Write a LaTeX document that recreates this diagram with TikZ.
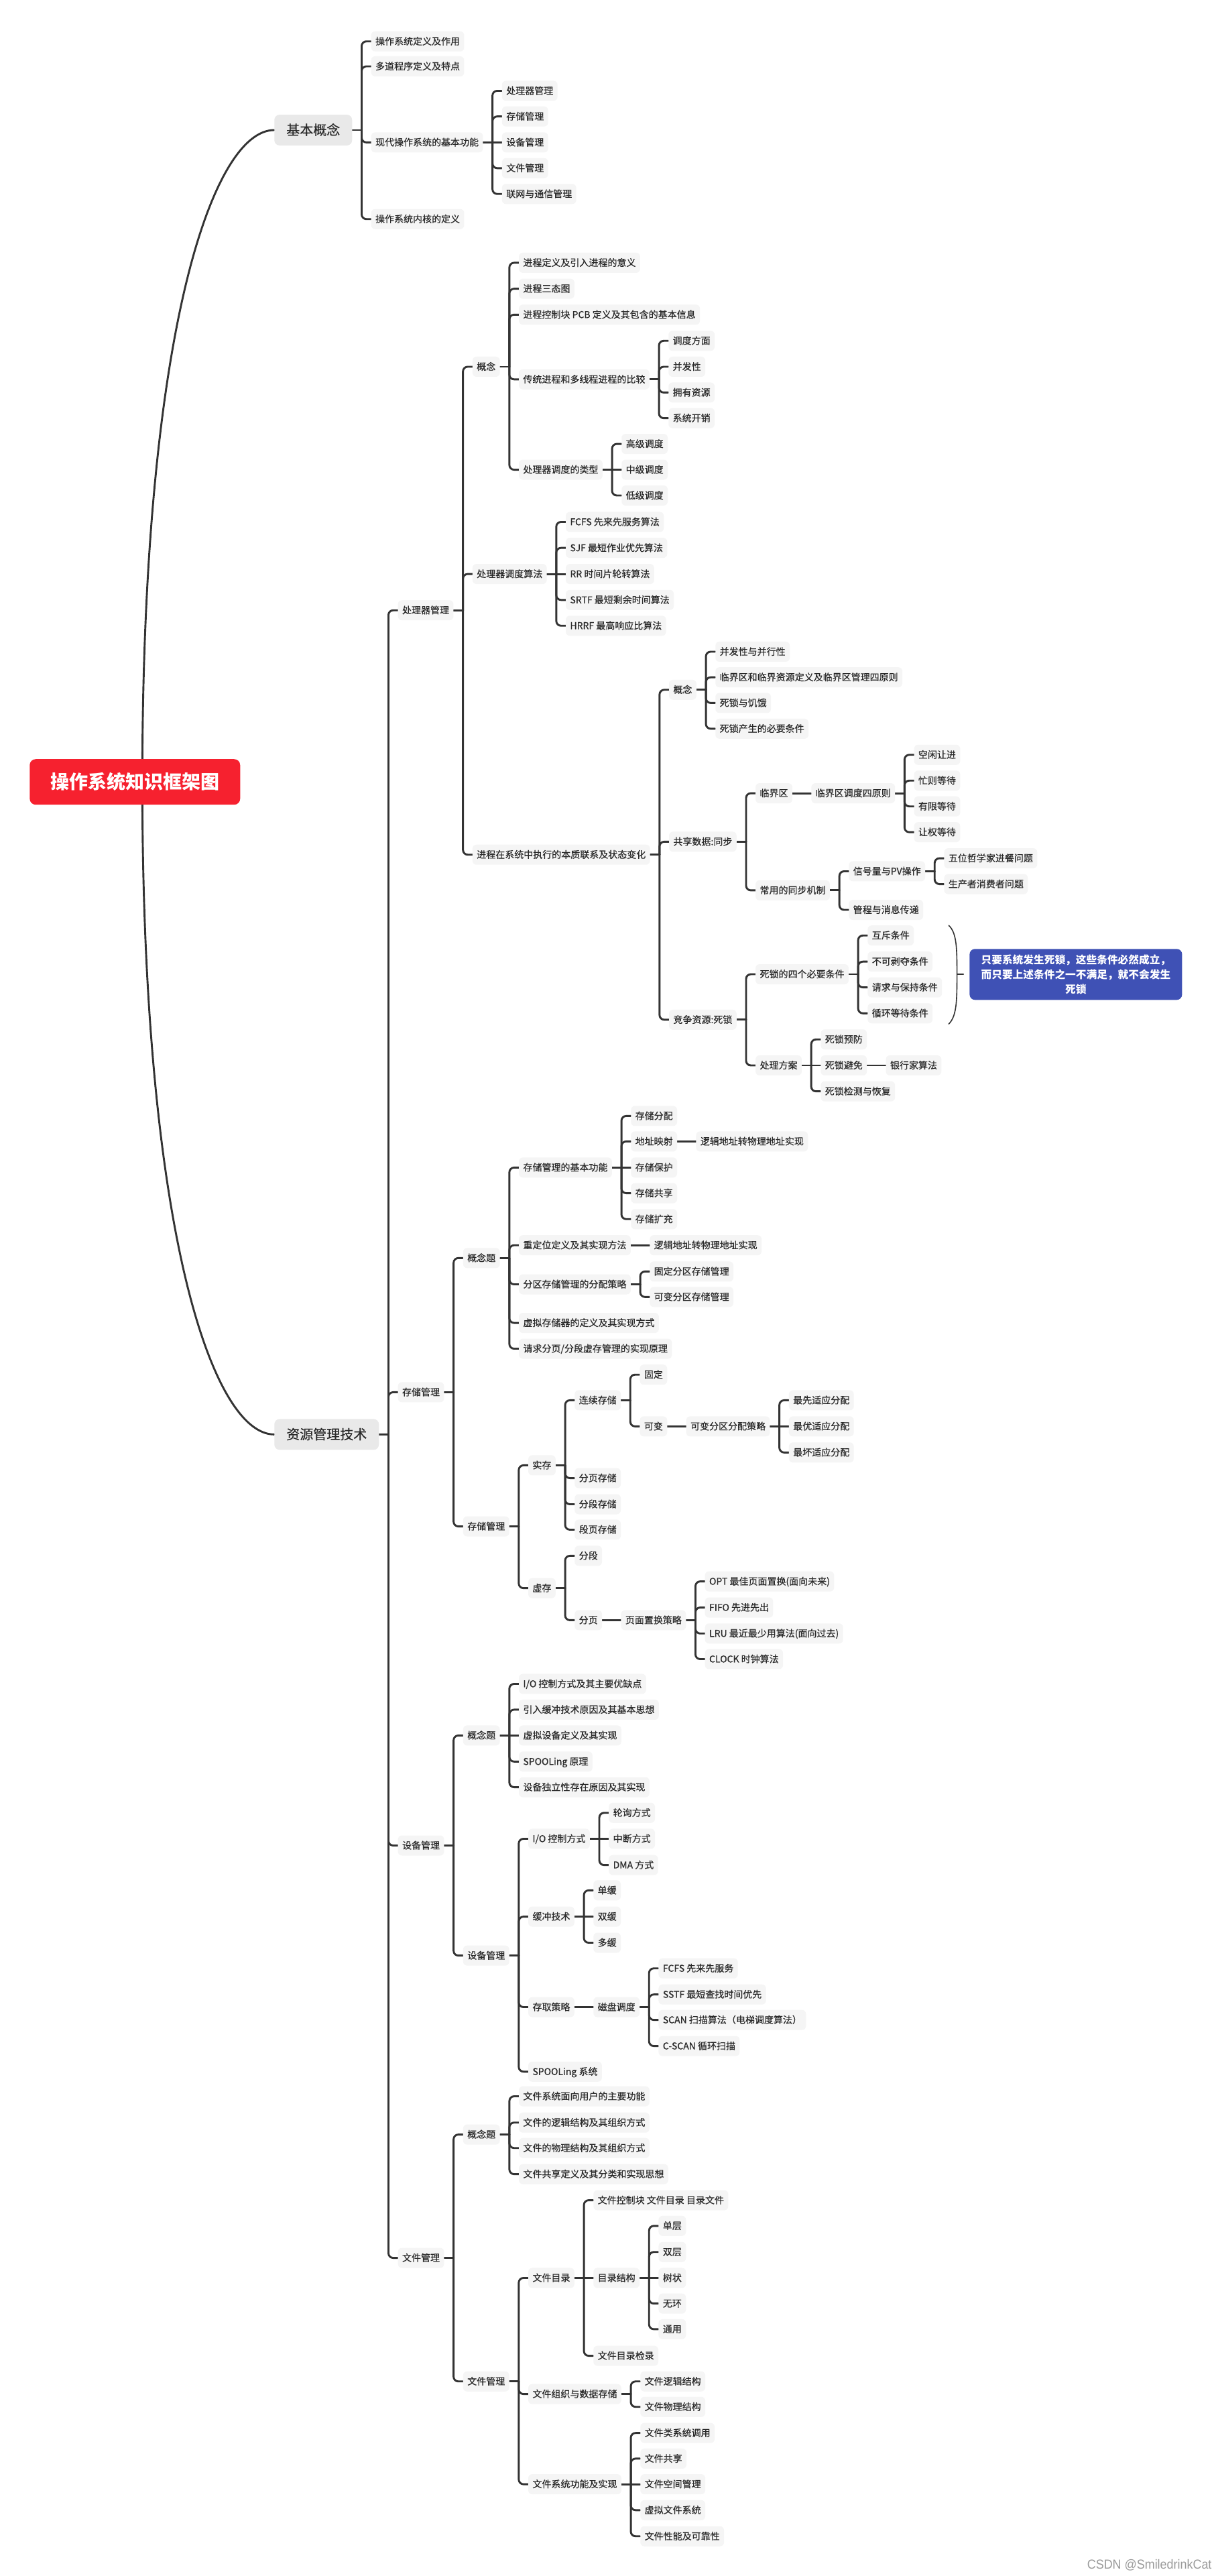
\documentclass[tikz,border=0pt]{standalone}
\usepackage{fontspec}
\usepackage{graphicx}
\setmainfont{Noto Sans CJK SC}
\newfontfamily\medfont[FakeBold=0.5]{Noto Sans CJK SC}
\newfontfamily\wmfont{Liberation Sans}
\usetikzlibrary{calc}
\definecolor{rootred}{HTML}{F6212F}
\definecolor{noteblue}{HTML}{3F51B5}
\definecolor{leafbg}{HTML}{F5F5F5}
\definecolor{bigbg}{HTML}{E9E9E9}
\definecolor{txt}{HTML}{2A2A2A}
\definecolor{lnk}{HTML}{333333}
\definecolor{wmgray}{HTML}{9A9A9A}
\pgfdeclarelayer{bg}
\pgfsetlayers{bg,main}
\tikzset{
  leaf/.style={anchor=west, fill=leafbg, rounded corners=6pt, inner xsep=6.4pt, inner ysep=0pt,
    minimum height=30pt, text=txt, text height=11.5pt, text depth=1.5pt, font=\medfont\fontsize{14}{16}\selectfont},
  big/.style={leaf, fill=bigbg, rounded corners=8pt, inner xsep=18pt, minimum height=46pt,
    text height=16.5pt, text depth=2pt, font=\medfont\fontsize{20}{24}\selectfont},
  rootbox/.style={anchor=west, fill=rootred, rounded corners=9pt, inner xsep=31pt, inner ysep=0pt,
    minimum height=68pt, text=white, text height=23pt, text depth=3pt, font=\fontsize{28}{32}\selectfont\bfseries},
  note/.style={fill=noteblue, rounded corners=8pt, text=white, align=center, inner sep=0pt,
    minimum width=317pt, minimum height=76pt, font=\fontsize{15.7}{21.7}\selectfont\bfseries},
  link/.style={draw=lnk, line width=2.9pt, rounded corners=7pt, line cap=round, line join=round},
  curvelink/.style={draw=lnk, line width=2.9pt, line cap=round},
  bracelink/.style={draw=lnk, line width=1.6pt, line cap=round},
}
\newcommand{\mnode}[4]{\node[leaf] (#1) at ($(#2.east |- 0,#3)+(28pt,0)$) {#4};}
\newcommand{\kidlinks}[2]{%
  \coordinate (#1-t) at ([xshift=14pt]#1.east);
  \draw[link] (#1.east) -- (#1-t);
  \foreach \c in {#2} {\draw[link] (#1-t) -- (#1-t |- \c.west) -- (\c.west);}
}
\newcommand{\slink}[2]{\draw[link] (#1.east) -- (#2.west);}
\begin{document}
\begin{tikzpicture}[x=2.4495pt, y=-2.4495pt]
\useasboundingbox (0,0) rectangle (739,1568.5);
\begin{pgfonlayer}{bg}
\fill[white] (0,0) rectangle (739,1568.5);
\end{pgfonlayer}

\node[rootbox] (root) at (18,476.1) {操作系统知识框架图};
\node[big] (A) at (167,79.2) {基本概念};
\node[big] (B) at (167,873.4) {资源管理技术};

% 基本概念
\mnode{a1}{A}{25.2}{操作系统定义及作用}
\mnode{a2}{A}{40.4}{多道程序定义及特点}
\mnode{a3}{A}{86.7}{现代操作系统的基本功能}
\mnode{a4}{A}{133.4}{操作系统内核的定义}
\mnode{a31}{a3}{55.3}{处理器管理}
\mnode{a32}{a3}{70.9}{存储管理}
\mnode{a33}{a3}{86.7}{设备管理}
\mnode{a34}{a3}{102.4}{文件管理}
\mnode{a35}{a3}{118.1}{联网与通信管理}

% 资源管理技术
\mnode{P}{B}{371.6}{处理器管理}
\mnode{S}{B}{847.7}{存储管理}
\mnode{D}{B}{1123.7}{设备管理}
\mnode{F}{B}{1374.8}{文件管理}

% 处理器管理
\mnode{p1}{P}{223.3}{概念}
\mnode{p2}{P}{349.5}{处理器调度算法}
\mnode{p3}{P}{520.4}{进程在系统中执行的本质联系及状态变化}
\mnode{p11}{p1}{160}{进程定义及引入进程的意义}
\mnode{p12}{p1}{175.8}{进程三态图}
\mnode{p13}{p1}{191.6}{进程控制块 PCB 定义及其包含的基本信息}
\mnode{p14}{p1}{231}{传统进程和多线程进程的比较}
\mnode{p15}{p1}{286}{处理器调度的类型}
\mnode{p141}{p14}{207.5}{调度方面}
\mnode{p142}{p14}{223.3}{并发性}
\mnode{p143}{p14}{239}{拥有资源}
\mnode{p144}{p14}{254.6}{系统开销}
\mnode{p151}{p15}{270.3}{高级调度}
\mnode{p152}{p15}{286}{中级调度}
\mnode{p153}{p15}{301.7}{低级调度}
\mnode{p21}{p2}{317.8}{FCFS 先来先服务算法}
\mnode{p22}{p2}{333.6}{SJF 最短作业优先算法}
\mnode{p23}{p2}{349.5}{RR 时间片轮转算法}
\mnode{p24}{p2}{365.3}{SRTF 最短剩余时间算法}
\mnode{p25}{p2}{381}{HRRF 最高响应比算法}
\mnode{p31}{p3}{420}{概念}
\mnode{p32}{p3}{512.5}{共享数据:同步}
\mnode{p33}{p3}{620.9}{竞争资源:死锁}
\mnode{p311}{p31}{396.8}{并发性与并行性}
\mnode{p312}{p31}{412.4}{临界区和临界资源定义及临界区管理四原则}
\mnode{p313}{p31}{428}{死锁与饥饿}
\mnode{p314}{p31}{443.7}{死锁产生的必要条件}
\mnode{p321}{p32}{483}{临界区}
\mnode{p322}{p32}{542.1}{常用的同步机制}
\mnode{p3211}{p321}{483}{临界区调度四原则}
\mnode{q1}{p3211}{459.6}{空闲让进}
\mnode{q2}{p3211}{475.3}{忙则等待}
\mnode{q3}{p3211}{491}{有限等待}
\mnode{q4}{p3211}{506.7}{让权等待}
\mnode{p3221}{p322}{530.5}{信号量与PV操作}
\mnode{p3222}{p322}{554}{管程与消息传递}
\mnode{r1}{p3221}{522.6}{五位哲学家进餐问题}
\mnode{r2}{p3221}{538.3}{生产者消费者问题}
\mnode{p331}{p33}{593.2}{死锁的四个必要条件}
\mnode{p332}{p33}{648.7}{处理方案}
\mnode{c1}{p331}{569.6}{互斥条件}
\mnode{c2}{p331}{585.5}{不可剥夺条件}
\mnode{c3}{p331}{601.2}{请求与保持条件}
\mnode{c4}{p331}{617}{循环等待条件}
\mnode{h1}{p332}{632.9}{死锁预防}
\mnode{h2}{p332}{648.7}{死锁避免}
\mnode{h3}{p332}{664.5}{死锁检测与恢复}
\mnode{h21}{h2}{648.7}{银行家算法}

\node[note] (note) at (655.2,593.3) {只要系统发生死锁，这些条件必然成立，\\而只要上述条件之一不满足，就不会发生\\死锁};
\coordinate (bt) at (577.8,563.5);
\coordinate (bb) at (577.8,623.5);
\coordinate (bm) at (582.8,593.3);

% 存储管理
\mnode{s1}{S}{766}{概念题}
\mnode{s2}{S}{929.4}{存储管理}
\mnode{s11}{s1}{710.9}{存储管理的基本功能}
\mnode{s12}{s1}{758.2}{重定位定义及其实现方法}
\mnode{s13}{s1}{782}{分区存储管理的分配策略}
\mnode{s14}{s1}{805.5}{虚拟存储器的定义及其实现方式}
\mnode{s15}{s1}{821.2}{请求分页/分段虚存管理的实现原理}
\mnode{s111}{s11}{679.5}{存储分配}
\mnode{s112}{s11}{695}{地址映射}
\mnode{s113}{s11}{710.9}{存储保护}
\mnode{s114}{s11}{726.5}{存储共享}
\mnode{s115}{s11}{742.3}{存储扩充}
\mnode{s1121}{s112}{695}{逻辑地址转物理地址实现}
\mnode{s121}{s12}{758.2}{逻辑地址转物理地址实现}
\mnode{s131}{s13}{774.2}{固定分区存储管理}
\mnode{s132}{s13}{789.7}{可变分区存储管理}
\mnode{s21}{s2}{892.2}{实存}
\mnode{s22}{s2}{967}{虚存}
\mnode{s211}{s21}{852.6}{连续存储}
\mnode{s212}{s21}{900}{分页存储}
\mnode{s213}{s21}{915.9}{分段存储}
\mnode{s214}{s21}{931.4}{段页存储}
\mnode{s2111}{s211}{837}{固定}
\mnode{s2112}{s211}{868.5}{可变}
\mnode{s21121}{s2112}{868.5}{可变分区分配策略}
\mnode{fa}{s21121}{852.6}{最先适应分配}
\mnode{fb}{s21121}{868.5}{最优适应分配}
\mnode{fc}{s21121}{884.4}{最坏适应分配}
\mnode{s221}{s22}{947.3}{分段}
\mnode{s222}{s22}{986.5}{分页}
\mnode{s2221}{s222}{986.5}{页面置换策略}
\mnode{o1}{s2221}{962.9}{OPT 最佳页面置换(面向未来)}
\mnode{o2}{s2221}{978.8}{FIFO 先进先出}
\mnode{o3}{s2221}{994.6}{LRU 最近最少用算法(面向过去)}
\mnode{o4}{s2221}{1010.2}{CLOCK 时钟算法}

% 设备管理
\mnode{d1}{D}{1056.7}{概念题}
\mnode{d2}{D}{1190.7}{设备管理}
\mnode{d11}{d1}{1025.3}{I/O 控制方式及其主要优缺点}
\mnode{d12}{d1}{1041}{引入缓冲技术原因及其基本思想}
\mnode{d13}{d1}{1056.7}{虚拟设备定义及其实现}
\mnode{d14}{d1}{1072.6}{SPOOLing 原理}
\mnode{d15}{d1}{1088.2}{设备独立性存在原因及其实现}
\mnode{d21}{d2}{1119.6}{I/O 控制方式}
\mnode{d22}{d2}{1167}{缓冲技术}
\mnode{d23}{d2}{1222.1}{存取策略}
\mnode{d24}{d2}{1261.4}{SPOOLing 系统}
\mnode{d211}{d21}{1103.8}{轮询方式}
\mnode{d212}{d21}{1119.6}{中断方式}
\mnode{d213}{d21}{1135.6}{DMA 方式}
\mnode{d221}{d22}{1151}{单缓}
\mnode{d222}{d22}{1167}{双缓}
\mnode{d223}{d22}{1182.9}{多缓}
\mnode{d231}{d23}{1222.1}{磁盘调度}
\mnode{k1}{d231}{1198.5}{FCFS 先来先服务}
\mnode{k2}{d231}{1214.4}{SSTF 最短查找时间优先}
\mnode{k3}{d231}{1229.9}{SCAN 扫描算法（电梯调度算法）}
\mnode{k4}{d231}{1245.8}{C-SCAN 循环扫描}

% 文件管理
\mnode{g1}{F}{1299.7}{概念题}
\mnode{g2}{F}{1450}{文件管理}
\mnode{g11}{g1}{1276.4}{文件系统面向用户的主要功能}
\mnode{g12}{g1}{1292.4}{文件的逻辑结构及其组织方式}
\mnode{g13}{g1}{1307.9}{文件的物理结构及其组织方式}
\mnode{g14}{g1}{1323.8}{文件共享定义及其分类和实现思想}
\mnode{g21}{g2}{1387}{文件目录}
\mnode{g22}{g2}{1457.7}{文件组织与数据存储}
\mnode{g23}{g2}{1512.6}{文件系统功能及实现}
\mnode{g211}{g21}{1339.7}{文件控制块 文件目录 目录文件}
\mnode{g212}{g21}{1387}{目录结构}
\mnode{g213}{g21}{1434.4}{文件目录检录}
\mnode{m1}{g212}{1355.3}{单层}
\mnode{m2}{g212}{1371.2}{双层}
\mnode{m3}{g212}{1387}{树状}
\mnode{m4}{g212}{1402.6}{无环}
\mnode{m5}{g212}{1418.2}{通用}
\mnode{g221}{g22}{1450}{文件逻辑结构}
\mnode{g222}{g22}{1465.5}{文件物理结构}
\mnode{g231}{g23}{1481.4}{文件类系统调用}
\mnode{g232}{g23}{1497}{文件共享}
\mnode{g233}{g23}{1512.6}{文件空间管理}
\mnode{g234}{g23}{1528.4}{虚拟文件系统}
\mnode{g235}{g23}{1544.3}{文件性能及可靠性}

\node[anchor=east, text=wmgray, inner sep=0pt, font=\wmfont\fontsize{19.5}{21}\selectfont] (wm) at (738,1562) {\scalebox{0.92}[1]{CSDN @SmiledrinkCat}};

\begin{pgfonlayer}{bg}
\coordinate (rs) at ([xshift=11pt]root.center);
\draw[curvelink] (rs) .. controls (rs |- 0,200) and (A.west -| 130,0) .. (A.west);
\draw[curvelink] (rs) .. controls (rs |- 0,752) and (B.west -| 130,0) .. (B.west);

\kidlinks{A}{a1,a2,a3,a4}
\kidlinks{a3}{a31,a32,a34,a35} \slink{a3}{a33}
\kidlinks{B}{P,S,D,F}
\kidlinks{P}{p1,p2,p3}
\kidlinks{p1}{p11,p12,p13,p14,p15}
\kidlinks{p14}{p141,p142,p143,p144}
\kidlinks{p15}{p151,p153} \slink{p15}{p152}
\kidlinks{p2}{p21,p22,p24,p25} \slink{p2}{p23}
\kidlinks{p3}{p31,p32,p33}
\kidlinks{p31}{p311,p312,p313,p314}
\kidlinks{p32}{p321,p322}
\slink{p321}{p3211}
\kidlinks{p3211}{q1,q2,q3,q4}
\kidlinks{p322}{p3221,p3222}
\kidlinks{p3221}{r1,r2}
\kidlinks{p33}{p331,p332}
\kidlinks{p331}{c1,c2,c3,c4}
\kidlinks{p332}{h1,h3} \slink{p332}{h2}
\slink{h2}{h21}
\draw[bracelink] (bt) .. controls (582.8,568) and (582.8,578) .. (bm) .. controls (582.8,608.6) and (582.8,618.6) .. (bb);
\draw[bracelink] (bm) -- ([xshift=-9pt]note.west);

\kidlinks{S}{s1,s2}
\kidlinks{s1}{s11,s12,s13,s14,s15}
\kidlinks{s11}{s111,s112,s114,s115} \slink{s11}{s113}
\slink{s112}{s1121}
\slink{s12}{s121}
\kidlinks{s13}{s131,s132}
\kidlinks{s2}{s21,s22}
\kidlinks{s21}{s211,s212,s213,s214}
\kidlinks{s211}{s2111,s2112}
\slink{s2112}{s21121}
\kidlinks{s21121}{fa,fc} \slink{s21121}{fb}
\kidlinks{s22}{s221,s222}
\slink{s222}{s2221}
\kidlinks{s2221}{o1,o2,o3,o4}

\kidlinks{D}{d1,d2}
\kidlinks{d1}{d11,d12,d14,d15} \slink{d1}{d13}
\kidlinks{d2}{d21,d22,d23,d24}
\kidlinks{d21}{d211,d213} \slink{d21}{d212}
\kidlinks{d22}{d221,d223} \slink{d22}{d222}
\slink{d23}{d231}
\kidlinks{d231}{k1,k2,k3,k4}

\kidlinks{F}{g1,g2}
\kidlinks{g1}{g11,g12,g13,g14}
\kidlinks{g2}{g21,g22,g23}
\kidlinks{g21}{g211,g213} \slink{g21}{g212}
\kidlinks{g212}{m1,m2,m4,m5} \slink{g212}{m3}
\kidlinks{g22}{g221,g222}
\kidlinks{g23}{g231,g232,g234,g235} \slink{g23}{g233}
\end{pgfonlayer}
\end{tikzpicture}
\end{document}
